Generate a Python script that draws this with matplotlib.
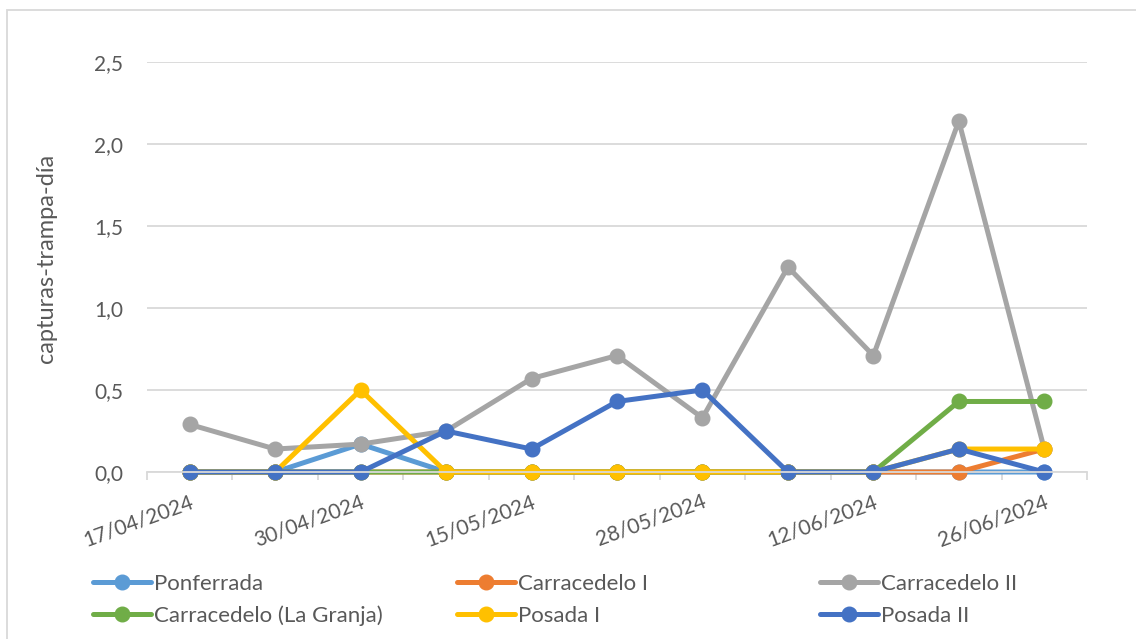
import matplotlib
matplotlib.use("Agg")
import matplotlib.pyplot as plt
from matplotlib.patches import Rectangle

plt.rcParams['font.family'] = ['Lato', 'DejaVu Sans']

dates = ["17/04/2024", "24/04/2024", "30/04/2024", "08/05/2024", "15/05/2024",
         "22/05/2024", "28/05/2024", "05/06/2024", "12/06/2024", "19/06/2024",
         "26/06/2024"]

ponferrada      = [0, 0, 0.17, 0, 0, 0, 0, 0, 0, 0, 0]
carracedelo_i   = [0, 0, 0, 0, 0, 0, 0, 0, 0, 0, 0.14]
carracedelo_ii  = [0.29, 0.14, 0.17, 0.25, 0.57, 0.71, 0.33, 1.25, 0.71, 2.14, 0.14]
la_granja       = [0, 0, 0, 0, 0, 0, 0, 0, 0, 0.43, 0.43]
posada_i        = [0, 0, 0.5, 0, 0, 0, 0, 0, 0, 0.14, 0.14]
posada_ii       = [0, 0, 0, 0.25, 0.14, 0.43, 0.5, 0, 0, 0.14, 0]

series = [
    ("Ponferrada", ponferrada, "#5B9BD5"),
    ("Carracedelo I", carracedelo_i, "#ED7D31"),
    ("Carracedelo II", carracedelo_ii, "#A5A5A5"),
    ("Carracedelo (La Granja)", la_granja, "#70AD47"),
    ("Posada I", posada_i, "#FFC000"),
    ("Posada II", posada_ii, "#4472C4"),
]

W, H = 1136, 639
fig = plt.figure(figsize=(W / 100, H / 100), dpi=100)
ax = fig.add_axes([147 / W, (H - 472) / H, (1087 - 147) / W, (472 - 62) / H])

text_color = "#595959"
grid_color = "#D9D9D9"

x = list(range(len(dates)))
handles = {}
for name, vals, col in series:
    ln, = ax.plot(x, vals, color=col, lw=3.6, marker='o', markersize=10.5,
                  solid_capstyle='round', clip_on=False, label=name)
    handles[name] = ln

ax.set_xlim(-0.5, len(dates) - 0.5)
ax.set_ylim(0, 2.5)
ax.set_yticks([0, 0.5, 1.0, 1.5, 2.0, 2.5])
ax.set_yticklabels([f"{v:.1f}".replace('.', ',') for v in [0, 0.5, 1.0, 1.5, 2.0, 2.5]])
ax.yaxis.grid(True, color=grid_color, lw=1.3)
ax.set_axisbelow(True)
for s in ['left', 'right', 'top']:
    ax.spines[s].set_visible(False)
ax.spines['bottom'].set_color(grid_color)
ax.spines['bottom'].set_linewidth(1.3)
ax.tick_params(axis='y', length=0, pad=17, labelsize=15, labelcolor=text_color)

ax.set_xticks(x[::2])
ax.set_xticklabels(dates[::2])
ax.set_xticks([i - 0.5 for i in range(len(dates) + 1)], minor=True)
ax.tick_params(axis='x', which='major', length=0, pad=14, labelsize=15, labelcolor=text_color)
ax.tick_params(axis='x', which='minor', length=6, width=1.3, color=grid_color)
for lbl in ax.get_xticklabels():
    lbl.set_rotation(20)
    lbl.set_ha('right')
    lbl.set_rotation_mode('anchor')

fig.text(47 / W, 1 - 258 / H, "capturas-trampa-día", rotation=90, ha='center', va='center',
         fontsize=17, color=text_color)

# chart border
fig.patches.append(Rectangle((7 / W, -0.1), 1.2, 1 - 10 / H + 0.1, transform=fig.transFigure,
                             fill=False, edgecolor=grid_color, lw=1.3))

cols = [
    (93, ["Ponferrada", "Carracedelo (La Granja)"]),
    (457, ["Carracedelo I", "Posada I"]),
    (820, ["Carracedelo II", "Posada II"]),
]
for xpx, names in cols:
    fig.legend(handles=[handles[n] for n in names], labels=names,
               loc='upper left', bbox_to_anchor=(xpx / W, 1 - 574 / H),
               frameon=False, borderpad=0, borderaxespad=0,
               handlelength=2.6, handletextpad=0.15, labelspacing=0.52,
               fontsize=16, labelcolor=text_color)

fig.savefig("out.png", dpi=100)
